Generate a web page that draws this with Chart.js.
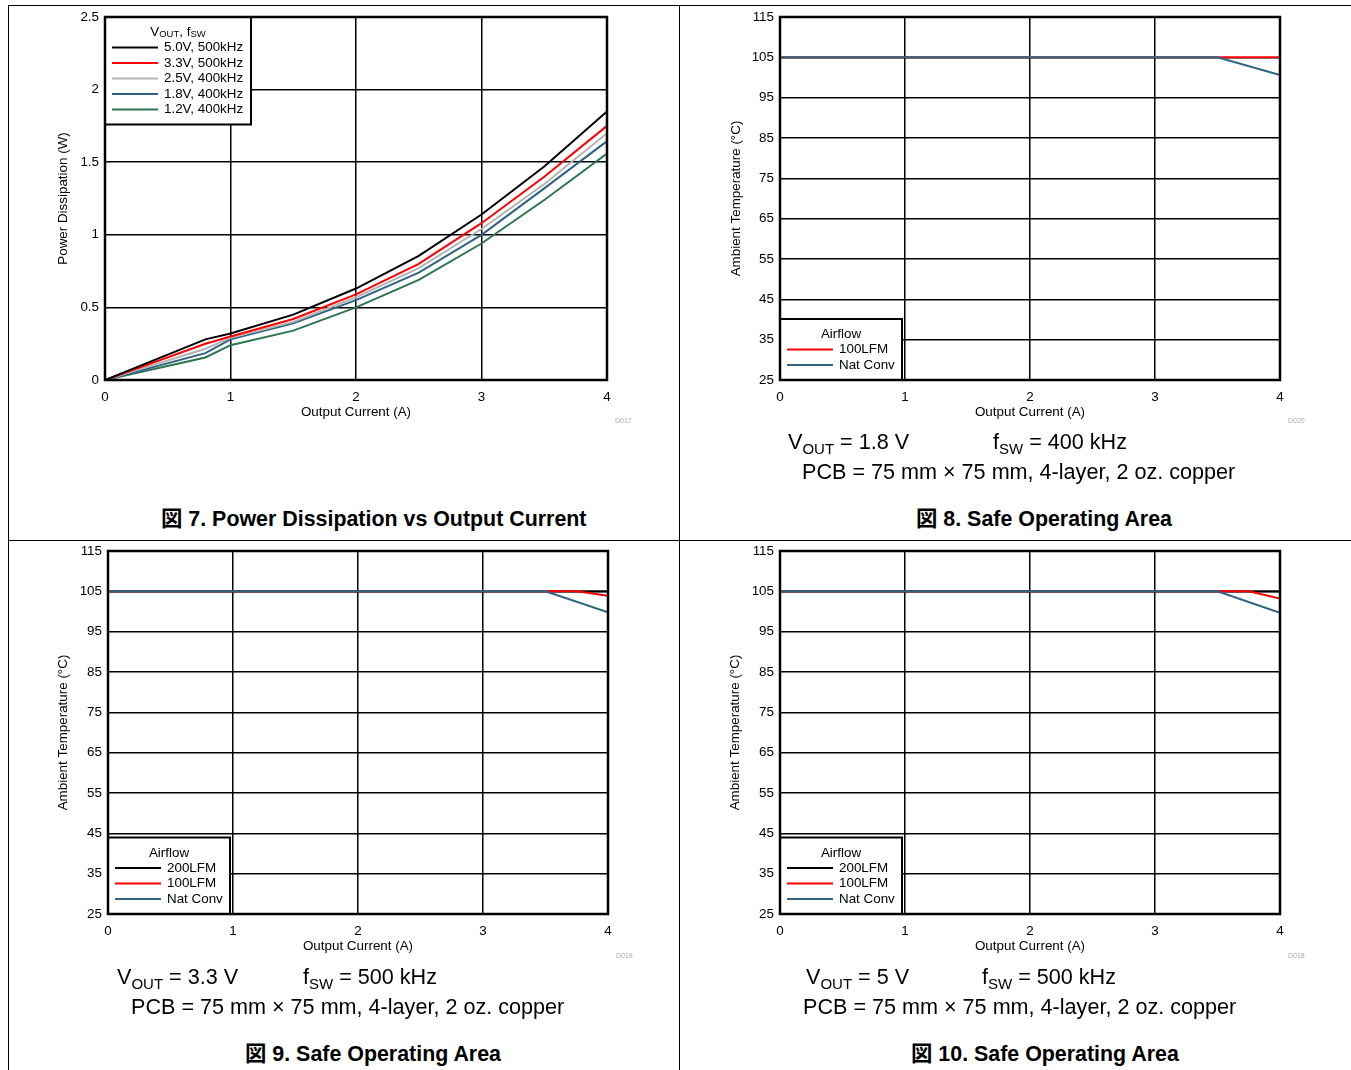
<!DOCTYPE html>
<html>
<head>
<meta charset="utf-8">
<script src="https://cdn.jsdelivr.net/npm/chart.js@4.4.1/dist/chart.umd.min.js"></script>
<style>
  html, body { margin: 0; padding: 0; background: #fff; }
  body { position: relative; width: 1351px; height: 1070px; overflow: hidden;
         font-family: 'Liberation Sans', Arial, 'Noto Sans CJK JP', sans-serif; color: #000; }
  canvas { position: absolute; }
  .rule { position: absolute; background: #000; }
  .note { position: absolute; font-size: 21.6px; line-height: 21px; white-space: nowrap; }
  .note sub { font-size: 15px; vertical-align: -5px; line-height: 0; }
  .cap { position: absolute; font-size: 21.4px; line-height: 21px; font-weight: bold; white-space: nowrap; }
  .code { position: absolute; font-size: 7px; line-height: 8px; color: #aaa; }
</style>
</head>
<body>
<div class="rule" style="left:8px;top:5px;width:1343px;height:1px"></div>
<div class="rule" style="left:8px;top:540px;width:1343px;height:1px"></div>
<div class="rule" style="left:8px;top:5px;width:1px;height:1065px"></div>
<div class="rule" style="left:679px;top:5px;width:1px;height:1065px"></div>

<canvas id="fig7"></canvas>
<canvas id="fig8"></canvas>
<canvas id="fig9"></canvas>
<canvas id="fig10"></canvas>

<div class="code" style="left:615px;top:417px">D017</div>
<div class="code" style="left:1288px;top:417px">D020</div>
<div class="code" style="left:616px;top:952px">D019</div>
<div class="code" style="left:1288px;top:952px">D018</div>

<div class="note" style="left:788px;top:431px">V<sub>OUT</sub> = 1.8 V</div>
<div class="note" style="left:993px;top:431px">f<sub>SW</sub> = 400 kHz</div>
<div class="note" style="left:802px;top:461px">PCB = 75 mm × 75 mm, 4-layer, 2 oz. copper</div>

<div class="note" style="left:117px;top:966px">V<sub>OUT</sub> = 3.3 V</div>
<div class="note" style="left:303px;top:966px">f<sub>SW</sub> = 500 kHz</div>
<div class="note" style="left:131px;top:996px">PCB = 75 mm × 75 mm, 4-layer, 2 oz. copper</div>

<div class="note" style="left:806px;top:966px">V<sub>OUT</sub> = 5 V</div>
<div class="note" style="left:982px;top:966px">f<sub>SW</sub> = 500 kHz</div>
<div class="note" style="left:803px;top:996px">PCB = 75 mm × 75 mm, 4-layer, 2 oz. copper</div>

<div class="cap" style="left:161px;top:509px">図 7. Power Dissipation vs Output Current</div>
<div class="cap" style="left:916px;top:509px">図 8. Safe Operating Area</div>
<div class="cap" style="left:245px;top:1044px">図 9. Safe Operating Area</div>
<div class="cap" style="left:911px;top:1044px">図 10. Safe Operating Area</div>

<script>
// --- figure 7: power dissipation (W) vs output current (A)
const currentA = [0, 0.8, 1, 1.5, 2, 2.5, 3, 3.5, 4];
const pd5v0 = [0, 0.28, 0.32, 0.45, 0.63, 0.855, 1.14, 1.47, 1.85];
const pd3v3 = [0, 0.25, 0.30, 0.42, 0.59, 0.80, 1.08, 1.40, 1.75];
const pd2v5 = [0, 0.215, 0.29, 0.40, 0.57, 0.77, 1.04, 1.35, 1.70];
const pd1v8 = [0, 0.185, 0.28, 0.39, 0.55, 0.74, 1.00, 1.32, 1.645];
const pd1v2 = [0, 0.155, 0.24, 0.34, 0.50, 0.69, 0.94, 1.24, 1.56];
const pdLabels = ['5.0V, 500kHz', '3.3V, 500kHz', '2.5V, 400kHz', '1.8V, 400kHz', '1.2V, 400kHz'];

// --- figures 8-10: safe operating area, ambient temp (°C) vs output current (A)
const soaCurrent = [0, 3.5, 3.75, 4];
const soa18v100lfm = [105, 105, 105, 105];
const soa18vNat = [105, 105, null, 100.6];
const soa33v200lfm = [105, 105, 105, 105];
const soa33v100lfm = [105, 105, 105, 103.9];
const soa33vNat = [105, 105, null, 99.8];
const soa50v200lfm = [105, 105, 105, 105];
const soa50v100lfm = [105, 105, 105, 103.2];
const soa50vNat = [105, 105, null, 99.7];
const airflowLabels = ['200LFM', '100LFM', 'Nat Conv'];

// tick labels
const currentTicks = [0, 1, 2, 3, 4];
const pdTicks = [0, 0.5, 1, 1.5, 2, 2.5];
const tempTicks = [25, 35, 45, 55, 65, 75, 85, 95, 105, 115];

const colors = {
  black: '#000000',
  red: '#ff0000',
  gray: '#b4b4b4',
  blue: '#2e6482',
  green: '#2b7650',
};

const AXIS_W = 75, AXIS_H = 45, PAD_T = 17, PAD_R = 45, PAD_B = 10;
const ROW = 15.5;
const FONT_PX = 13.4;

Chart.defaults.font.family = "'Liberation Sans', Arial, sans-serif";
Chart.defaults.color = '#000';

function series(xs, ys, label, color, order) {
  return {
    label,
    data: xs.map((x, i) => ({ x, y: ys[i] })),
    borderColor: color,
    backgroundColor: color,
    borderWidth: 2,
    pointRadius: 0,
    tension: 0,
    spanGaps: true,
    order: order || 0,
  };
}

// legend drawn as a framed box in a corner of the plot, like the datasheet
const boxLegend = {
  id: 'boxLegend',
  afterDatasetsDraw(chart, args, opts) {
    const { ctx, chartArea: a } = chart;
    const sets = chart.data.datasets;
    const h = 30.5 + ROW * (sets.length - 1) + 15;
    const w = opts.width;
    const x0 = a.left;
    const y0 = opts.corner === 'top' ? a.top : a.bottom - h;
    const fam = Chart.defaults.font.family;
    ctx.save();
    ctx.fillStyle = '#fff';
    ctx.fillRect(x0, y0, w, h);
    ctx.lineWidth = 2;
    ctx.strokeStyle = '#000';
    ctx.strokeRect(x0, y0, w, h);

    // title, with optional subscripts
    const pieces = opts.title;
    const fontFor = p => (p.sub ? '9.5px ' : FONT_PX + 'px ') + fam;
    let total = 0;
    pieces.forEach(p => { ctx.font = fontFor(p); total += ctx.measureText(p.text).width; });
    let tx = x0 + w / 2 - total / 2;
    const ty = y0 + 15.5;
    ctx.fillStyle = '#000';
    ctx.textBaseline = 'middle';
    ctx.textAlign = 'left';
    pieces.forEach(p => {
      ctx.font = fontFor(p);
      ctx.fillText(p.text, tx, p.sub ? ty + 2 : ty);
      tx += ctx.measureText(p.text).width;
    });

    ctx.font = FONT_PX + 'px ' + fam;
    sets.forEach((ds, i) => {
      const y = y0 + 30.5 + ROW * i;
      ctx.strokeStyle = ds.borderColor;
      ctx.lineWidth = 2;
      ctx.beginPath();
      ctx.moveTo(x0 + 7, y);
      ctx.lineTo(x0 + 53, y);
      ctx.stroke();
      ctx.fillStyle = '#000';
      ctx.fillText(ds.label, x0 + 59, y);
    });
    ctx.restore();
  },
};

const frameBox = {
  id: 'frameBox',
  afterDraw(chart) {
    const { ctx, chartArea: a } = chart;
    ctx.save();
    ctx.lineWidth = 2.5;
    ctx.strokeStyle = '#000';
    ctx.strokeRect(a.left, a.top, a.right - a.left, a.bottom - a.top);
    ctx.restore();
  },
};

function axis(ticks, min, max, title, isY, titlePad) {
  return {
    type: 'linear',
    min, max,
    afterBuildTicks: s => { s.ticks = ticks.map(v => ({ value: v })); },
    afterFit: s => { if (isY) s.width = AXIS_W; else s.height = AXIS_H; },
    grid: { color: '#000', lineWidth: 1.5, drawTicks: false },
    border: { display: false },
    ticks: {
      color: '#000',
      font: { size: FONT_PX },
      padding: isY ? 6 : 9,
      autoSkip: false,
      maxRotation: 0,
      callback: v => String(v),
    },
    title: {
      display: true,
      text: title,
      color: '#000',
      font: { size: FONT_PX },
      padding: isY ? { top: titlePad, bottom: 0 } : { top: 0, bottom: 5 },
    },
  };
}

function makeChart(id, area, datasets, yAxis, legend) {
  const canvas = document.getElementById(id);
  const w = area.right - area.left + AXIS_W + PAD_R;
  const h = area.bottom - area.top + PAD_T + AXIS_H + PAD_B;
  canvas.width = w;
  canvas.height = h;
  canvas.style.width = w + 'px';
  canvas.style.height = h + 'px';
  canvas.style.left = (area.left - AXIS_W) + 'px';
  canvas.style.top = (area.top - PAD_T) + 'px';
  return new Chart(canvas, {
    type: 'line',
    data: { datasets },
    options: {
      responsive: false,
      animation: false,
      events: [],
      layout: { padding: { left: 0, top: PAD_T, right: PAD_R, bottom: PAD_B } },
      plugins: {
        legend: { display: false },
        tooltip: { enabled: false },
        boxLegend: legend,
      },
      scales: {
        x: axis(currentTicks, 0, 4, 'Output Current (A)', false),
        y: yAxis,
      },
    },
    plugins: [boxLegend, frameBox],
  });
}

const pdTitle = [{ text: 'V' }, { text: 'OUT', sub: true }, { text: ', f' }, { text: 'SW', sub: true }];
const airTitle = [{ text: 'Airflow' }];
const tempAxis = pad => axis(tempTicks, 25, 115, 'Ambient Temperature (°C)', true, pad);

makeChart('fig7', { left: 105, top: 17, right: 607, bottom: 380 }, [
  series(currentA, pd5v0, pdLabels[0], colors.black),
  series(currentA, pd3v3, pdLabels[1], colors.red),
  series(currentA, pd2v5, pdLabels[2], colors.gray),
  series(currentA, pd1v8, pdLabels[3], colors.blue),
  series(currentA, pd1v2, pdLabels[4], colors.green),
], axis(pdTicks, 0, 2.5, 'Power Dissipation (W)', true, 25), { corner: 'top', width: 146, title: pdTitle });

makeChart('fig8', { left: 780, top: 17, right: 1280, bottom: 380 }, [
  series(soaCurrent, soa18v100lfm, airflowLabels[1], colors.red, 1),
  series(soaCurrent, soa18vNat, airflowLabels[2], colors.blue, 0),
], tempAxis(23), { corner: 'bottom', width: 122, title: airTitle });

makeChart('fig9', { left: 108, top: 551, right: 608, bottom: 914 }, [
  series(soaCurrent, soa33v200lfm, airflowLabels[0], colors.black, 2),
  series(soaCurrent, soa33v100lfm, airflowLabels[1], colors.red, 1),
  series(soaCurrent, soa33vNat, airflowLabels[2], colors.blue, 0),
], tempAxis(22), { corner: 'bottom', width: 122, title: airTitle });

makeChart('fig10', { left: 780, top: 551, right: 1280, bottom: 914 }, [
  series(soaCurrent, soa50v200lfm, airflowLabels[0], colors.black, 2),
  series(soaCurrent, soa50v100lfm, airflowLabels[1], colors.red, 1),
  series(soaCurrent, soa50vNat, airflowLabels[2], colors.blue, 0),
], tempAxis(22), { corner: 'bottom', width: 122, title: airTitle });
</script>
</body>
</html>
